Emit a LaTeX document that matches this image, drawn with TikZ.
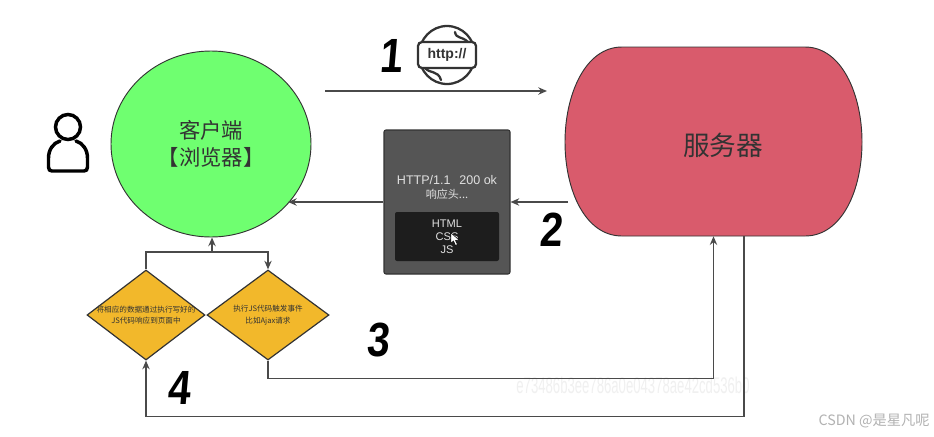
\documentclass[tikz,border=0pt]{standalone}
\usepackage{fontspec}
\usetikzlibrary{shapes.geometric,arrows.meta,calc}
\setmainfont{Liberation Sans}
\newfontfamily\cjk{Noto Sans CJK SC}
\newfontfamily\digitfont[FakeSlant=0.1]{Liberation Sans}
\definecolor{linec}{HTML}{4A4A4A}
\definecolor{textc}{HTML}{333333}
\definecolor{greenf}{HTML}{6FFF70}
\definecolor{redf}{HTML}{D95B6C}
\definecolor{orangef}{HTML}{F2B82B}
\definecolor{boxf}{HTML}{555555}
\definecolor{innerf}{HTML}{1D1D1D}
\def\px{0.75pt}
\tikzset{
  x=0.75pt,y=-0.75pt,
  conn/.style={draw=linec,line width=1.1pt,-{Stealth[length=6.5pt,width=5.5pt]}},
  plainline/.style={draw=linec,line width=1.1pt},
  decision/.style={diamond,draw=textc,fill=orangef,line width=0.9pt,inner sep=0pt,minimum width=118*\px,minimum height=90*\px},
  dectext/.style={font=\cjk\fontsize{5.7pt}{8.6pt}\selectfont,text=textc,align=center},
  seg/.style={font=\digitfont\bfseries\fontsize{36pt}{36pt}\selectfont,text=black,inner sep=0pt,xscale=0.85},
  icon/.style={draw=black,line width=2.6pt,line join=round,line cap=round},
  globe/.style={draw=textc,line width=1.7pt,line join=round,line cap=round},
}
\begin{document}
\begin{tikzpicture}
\useasboundingbox (0,0) rectangle (934,436);
\fill[white] (0,0) rectangle (934,436);
% client
\node[ellipse,draw=textc,fill=greenf,line width=0.7pt,inner sep=0pt,minimum width=200*\px,minimum height=186*\px,
  font=\cjk\fontsize{16pt}{20pt}\selectfont,text=textc,align=center] (client) at (211,144) {客户端\\【浏览器】};
% server
\fill[redf,draw=textc,line width=0.7pt]
  (622,47) -- (805,47) .. controls (842,47) and (862,95) .. (862,142)
  .. controls (862,190) and (842,236) .. (805,236) -- (622,236)
  .. controls (585,236) and (565,190) .. (565,142)
  .. controls (565,95) and (585,47) .. (622,47) -- cycle;
\node[minimum width=297*\px,minimum height=189*\px,inner sep=0pt] (server) at (713.5,141.5) {};
\node[font=\cjk\fontsize{20pt}{24pt}\selectfont,text=textc] (servertext) at (723,145) {服务器};
% response box
\node[rectangle,rounded corners=1.5pt,draw=textc,fill=boxf,line width=0.8pt,minimum width=126*\px,minimum height=144*\px,inner sep=0pt] (resp) at (447,202) {};
\node[rectangle,rounded corners=1.5pt,fill=innerf,minimum width=104*\px,minimum height=49*\px,inner sep=0pt,
  font=\fontsize{8.3pt}{9.9pt}\selectfont,text=white!88!black,align=center] (body) at (447,236.5) {HTML\\CSS\\JS};
\node[font=\cjk\fontsize{8.3pt}{11pt}\selectfont,text=white!88!black,align=center] (head) at (447,187.5) {\fontspec{Liberation Sans}\fontsize{9.4pt}{11pt}\selectfont HTTP/1.1\hspace{0.7em}200 ok\\响应头...};
\draw[fill=white,draw=black,line width=0.35pt] (451,233) -- (451,243) -- (453.5,241) -- (455.5,245.5) -- (457.5,244.5) -- (455.5,240.5) -- (459,240) -- cycle;
% decisions
\node[decision,label={[dectext]center:将相应的数据通过执行写好的\\JS代码响应到页面中}] (d1) at (146,315) {};
\node[decision,minimum width=122*\px,label={[dectext]center:执行JS代码触发事件\\比如Ajax请求}] (d2) at (268,315) {};
\coordinate (split) at (212,252);
% watermark below the connectors
\node[font=\fontsize{17pt}{18pt}\selectfont,text=black!6,inner sep=0pt,xscale=0.58] (wm) at (633,385) {e73486b3ee786a0e04378ae42cd536b0};
% connectors
\coordinate (reqstart) at (325,91);
\coordinate (reqend) at (547,91);
\draw[conn] (reqstart) -- (reqend);
\coordinate (srvout) at (568,202);
\draw[conn] (srvout) -- (resp.east |- srvout);
\draw[conn] (resp.west |- srvout) -- (288,202);
\draw[plainline] (d1.north) |- (split);
\draw[conn] (split) -| (d2.north);
\draw[conn] (split) -- (client.south -| split);
\draw[conn] (d2.south) -- ++(0,18) -| (server.south);
\draw[conn] ($(server.south)+(30.5,0)$) -- ++(0,180) -| (d1.south);
% person icon
\node[circle,draw=black,line width=2.6pt,minimum size=25*\px,inner sep=0pt] (head1) at (68,127) {};
\draw[icon] (60,141) .. controls (53,143) and (48.5,150) .. (48.5,158) -- (48.5,167)
  .. controls (48.5,170) and (50,171) .. (52,171) -- (84,171)
  .. controls (86,171) and (87.5,170) .. (87.5,167) -- (87.5,158)
  .. controls (87.5,150) and (83,143) .. (76,141);
% http icon
\draw[globe] (447,55) circle[x radius=28,y radius=29];
\draw[globe] (455,32) .. controls (456,39) and (462,36) .. (468,42);
\draw[globe] (425,68) .. controls (430,74) and (438,70) .. (441,80);
\node[rectangle,rounded corners=3pt,draw=textc,fill=white,line width=1.7pt,minimum width=58*\px,minimum height=26*\px,inner sep=0pt,
  font=\bfseries\fontsize{10.5pt}{11pt}\selectfont,text=textc] (http) at (447,55) {http://};
% digits
\node[seg] (n1) at (391,56) {1};
\node[seg] (n2) at (551,230) {2};
\node[seg] (n3) at (378,340) {3};
\node[seg] (n4) at (179,388) {4};
% csdn mark
\node[font=\cjk\fontsize{10.7pt}{13pt}\selectfont,text=black!30,inner sep=0pt,anchor=east] (csdn) at (930,421) {CSDN @是星凡呢};
\end{tikzpicture}
\end{document}
